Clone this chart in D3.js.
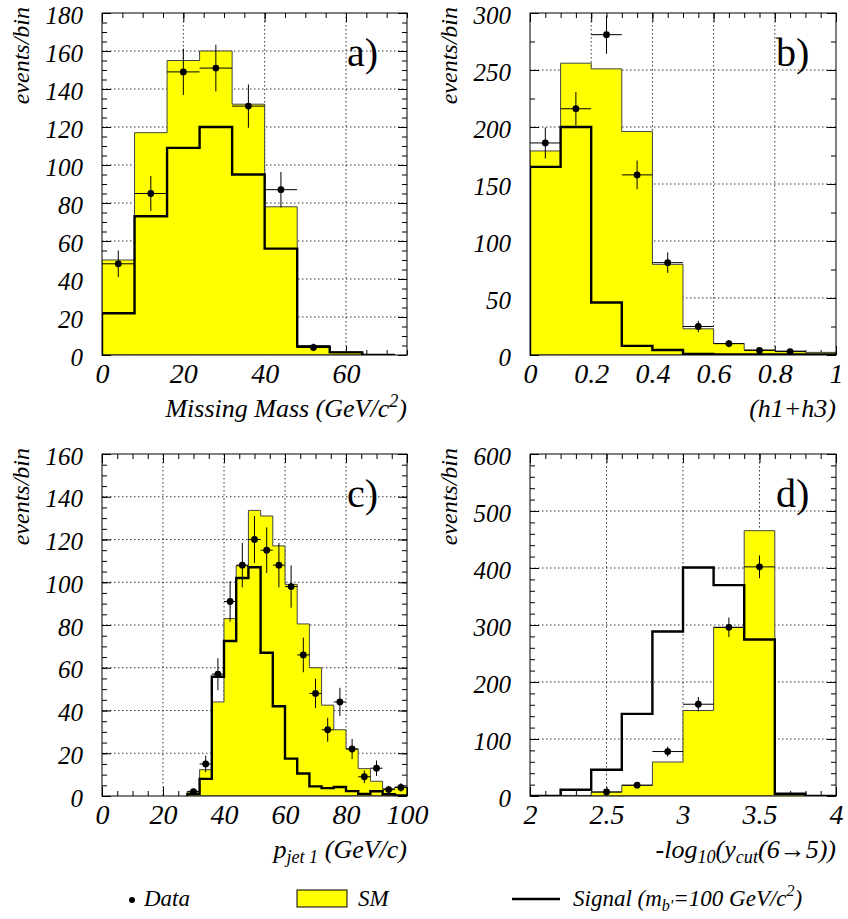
<!DOCTYPE html>
<meta charset='utf-8'>
<style>
body { margin: 0; background: #fff; }
.grid line { stroke: #000; stroke-width: 0.8; stroke-dasharray: 1.5,2.5; }
.ticks line { stroke: #000; stroke-width: 1; }
.ticks path { display: none; }
.labels path, .labels line { display: none; }
.sm { fill: #ffff00; stroke: #444; stroke-width: 1; }
.sig { fill: none; stroke: #000; stroke-width: 2.4; }
.err { stroke: #000; stroke-width: 1; }
.frame { fill: none; stroke: #000; stroke-width: 1; }
</style>
<body>
<script src='https://d3js.org/d3.v7.min.js'></script>
<script>
// ---- panel a: missing mass
var binsA = [0, 8, 16, 24, 32, 40, 48, 56, 64];
var smA   = [50, 117, 155, 160, 132, 78, 5, 1.7, 0];
var sigA  = [22, 73, 109, 120, 95, 56, 4.4, 1.4, 0];
var dataXA = [4, 12, 20, 28, 36, 44, 52];
var dataA  = [48, 85, 149, 151, 131, 87, 4];
var errA   = [7, 9.2, 12.2, 12.3, 11.4, 9.3, 2];

// ---- panel b: h1+h3
var binsB = [0, 0.1, 0.2, 0.3, 0.4, 0.5, 0.6, 0.7, 0.8, 0.9];
var smB   = [179, 256, 251, 196, 79.5, 23, 10, 4.5, 3.5, 2.3];
var sigB  = [165, 200, 46, 8, 4.4, 1, 0.5, 0.5, 0.5, 0.5];
var dataXB = [0.05, 0.15, 0.25, 0.35, 0.45, 0.55, 0.65, 0.75, 0.85];
var dataB  = [186, 216, 281, 158, 81, 25, 10, 4, 3];
var errB   = [13.6, 14.7, 16.8, 12.6, 9, 5, 3.2, 2, 1.7];

// ---- panel c: p jet 1
var binsC = [28, 32, 36, 40, 44, 48, 52, 56, 60, 64, 68, 72, 76, 80, 84, 88, 92, 96];
var smC   = [2.2, 12.3, 44, 83, 107.7, 133.6, 131, 117, 99, 80.5, 60, 42.5, 31, 22, 12.8, 6.9, 3.4, 4.2];
var sigC  = [1, 8, 55.8, 72.5, 102, 107, 67, 42, 17.5, 10.5, 4.5, 3.7, 4.2, 2.3, 1, 2.2, 0.8, 0.3];
var dataXC = [30, 34, 38, 42, 46, 50, 54, 58, 62, 66, 70, 74, 78, 82, 86, 90, 94, 98];
var dataC  = [2, 15, 57, 91, 108, 120, 115, 108, 98, 66, 48, 31, 44, 22, 9, 13, 3, 4];
var errC   = [1.4, 3.9, 7.5, 9.5, 10.4, 11, 10.7, 10.4, 9.9, 8.1, 6.9, 5.6, 6.6, 4.7, 3, 3.6, 1.7, 2];

// ---- panel d: -log10(ycut)
var binsD = [2.0, 2.2, 2.4, 2.6, 2.8, 3.0, 3.2, 3.4, 3.6, 3.8];
var smD   = [0, 1, 7, 18.7, 59.6, 150, 295.6, 465.5, 4, 0];
var sigD  = [0, 11, 46, 144, 288.5, 401, 370, 274.5, 4, 0];
var dataXD = [2.5, 2.7, 2.9, 3.1, 3.3, 3.5];
var dataD  = [7, 19, 78, 161, 296, 402];
var errD   = [2.6, 4.4, 8.8, 12.7, 17.2, 20];

var FONT = "'Liberation Serif'";

var svg = d3.select('body').append('svg')
  .attr('width', 848).attr('height', 919);

function txt(sel, size, upright) {
  return sel.attr('font-family', null).style('font-family', FONT).style('font-size', size + 'px')
    .style('font-style', upright ? 'normal' : 'italic').style('fill', '#000');
}

function panel(p) {
  var g = svg.append('g').attr('transform', 'translate(' + p.left + ',' + p.top + ')');
  var x = d3.scaleLinear().domain(p.xDomain).range([0, p.w]);
  var y = d3.scaleLinear().domain(p.yDomain).range([p.h, 0]);

  g.append('clipPath').attr('id', 'clip' + p.id)
    .append('rect').attr('width', p.w).attr('height', p.h);

  // gridlines
  var gx = p.xMajor.filter(function(v) { return v > p.xDomain[0] && v < p.xDomain[1]; });
  var gy = p.yMajor.filter(function(v) { return v > p.yDomain[0] && v < p.yDomain[1]; });
  var grid = g.append('g').attr('class', 'grid');
  grid.selectAll('.gx').data(gx).enter().append('line')
    .attr('x1', function(d) { return x(d); }).attr('x2', function(d) { return x(d); })
    .attr('y1', 0).attr('y2', p.h);
  grid.selectAll('.gy').data(gy).enter().append('line')
    .attr('y1', function(d) { return y(d); }).attr('y2', function(d) { return y(d); })
    .attr('x1', 0).attr('x2', p.w);

  // ticks on all four sides, pointing inward
  function ticks(axis, vals, len, tr) {
    g.append('g').attr('class', 'ticks').attr('transform', tr || null)
      .call(axis.tickValues(vals).tickSize(len).tickFormat(''));
  }
  ticks(d3.axisLeft(y), p.yMinor, -5);
  ticks(d3.axisLeft(y), p.yMajor, -9);
  ticks(d3.axisRight(y), p.yMinor, -5, 'translate(' + p.w + ',0)');
  ticks(d3.axisRight(y), p.yMajor, -9, 'translate(' + p.w + ',0)');
  ticks(d3.axisTop(x), p.xMinor, -5);
  ticks(d3.axisTop(x), p.xMajor, -9);
  ticks(d3.axisBottom(x), p.xMinor, -5, 'translate(0,' + p.h + ')');
  ticks(d3.axisBottom(x), p.xMajor, -9, 'translate(0,' + p.h + ')');

  var body = g.append('g').attr('clip-path', 'url(#clip' + p.id + ')');

  function steps(vals) {
    var pts = vals.map(function(v, i) { return [p.bins[i], v]; });
    pts.push([p.bins[p.bins.length - 1] + p.bw, vals[vals.length - 1]]);
    return pts;
  }

  var area = d3.area().curve(d3.curveStepAfter)
    .x(function(d) { return x(d[0]); })
    .y0(y(0)).y1(function(d) { return y(d[1]); });
  body.append('path').attr('class', 'sm').attr('d', area(steps(p.sm)));

  var line = d3.line().curve(d3.curveStepAfter)
    .x(function(d) { return x(d[0]); })
    .y(function(d) { return y(d[1]); });
  var sp = steps(p.sig);
  sp.unshift([p.bins[0], 0]);
  sp.push([sp[sp.length - 1][0], 0]);
  body.append('path').attr('class', 'sig').attr('d', line(sp));

  // data with error bars
  var pts = body.selectAll('.pt').data(p.dataX).enter().append('g');
  pts.append('line').attr('class', 'err')
    .attr('x1', function(d) { return x(d - p.bw / 2); })
    .attr('x2', function(d) { return x(d + p.bw / 2); })
    .attr('y1', function(d, i) { return y(p.data[i]); })
    .attr('y2', function(d, i) { return y(p.data[i]); });
  pts.append('line').attr('class', 'err')
    .attr('x1', function(d) { return x(d); })
    .attr('x2', function(d) { return x(d); })
    .attr('y1', function(d, i) { return y(p.data[i] - p.err[i]); })
    .attr('y2', function(d, i) { return y(p.data[i] + p.err[i]); });
  pts.append('circle')
    .attr('cx', function(d) { return x(d); })
    .attr('cy', function(d, i) { return y(p.data[i]); })
    .attr('r', 3.4);

  g.append('rect').attr('class', 'frame').attr('width', p.w).attr('height', p.h);

  // tick labels
  var ya = g.append('g').attr('class', 'labels')
    .call(d3.axisLeft(y).tickValues(p.yMajor).tickSize(0).tickPadding(19).tickFormat(d3.format('~g')))
    .attr('font-family', null).attr('font-size', null);
  txt(ya.selectAll('text').attr('dy', '0.4em'), 25);
  var xa = g.append('g').attr('class', 'labels').attr('transform', 'translate(0,' + p.h + ')')
    .call(d3.axisBottom(x).tickValues(p.xLabels).tickSize(0).tickPadding(0).tickFormat(d3.format('~g')))
    .attr('font-family', null).attr('font-size', null);
  txt(xa.selectAll('text').attr('dy', null).attr('y', 28), 28);

  txt(g.append('text').attr('x', p.w - 60).attr('y', 53).text(p.tag), 40, true);

  txt(g.append('text')
    .attr('transform', 'translate(-73,-6) rotate(-90)')
    .attr('text-anchor', 'end').text('events/bin'), 24);

  var t = txt(g.append('text').attr('text-anchor', 'end')
    .attr('x', p.w).attr('y', p.h + 62), 26);
  p.title(t);
}

function sub(t, s) { t.append('tspan').attr('font-size', '70%').attr('dy', 5).text(s); }
function unsub(t, s) { t.append('tspan').attr('dy', -5).text(s); }

panel({
  id: 'a', tag: 'a)', left: 102, top: 13, w: 305, h: 342,
  xDomain: [0, 75], yDomain: [0, 180],
  xMajor: [0, 20, 40, 60], xMinor: d3.range(0, 76, 5), xLabels: [0, 20, 40, 60],
  yMajor: [0, 20, 40, 60, 80, 100, 120, 140, 160, 180], yMinor: d3.range(0, 181, 5),
  bins: binsA, bw: 8, sm: smA, sig: sigA, dataX: dataXA, data: dataA, err: errA,
  title: function(t) {
    t.append('tspan').text('Missing Mass (GeV/c');
    t.append('tspan').attr('font-size', '70%').attr('dy', -10).text('2');
    t.append('tspan').attr('dy', 10).text(')');
  }
});

panel({
  id: 'b', tag: 'b)', left: 530, top: 13, w: 306, h: 342,
  xDomain: [0, 1], yDomain: [0, 300],
  xMajor: [0, 0.2, 0.4, 0.6, 0.8, 1], xMinor: d3.range(0, 21).map(function(i) { return i / 20; }),
  xLabels: [0, 0.2, 0.4, 0.6, 0.8, 1],
  yMajor: [0, 50, 100, 150, 200, 250, 300], yMinor: d3.range(0, 301, 25),
  bins: binsB, bw: 0.1, sm: smB, sig: sigB, dataX: dataXB, data: dataB, err: errB,
  title: function(t) { t.text('(h1+h3)'); }
});

panel({
  id: 'c', tag: 'c)', left: 102, top: 454, w: 305, h: 342,
  xDomain: [0, 100], yDomain: [0, 160],
  xMajor: [0, 20, 40, 60, 80, 100], xMinor: d3.range(0, 101, 5), xLabels: [0, 20, 40, 60, 80, 100],
  yMajor: [0, 20, 40, 60, 80, 100, 120, 140, 160], yMinor: d3.range(0, 161, 5),
  bins: binsC, bw: 4, sm: smC, sig: sigC, dataX: dataXC, data: dataC, err: errC,
  title: function(t) {
    t.append('tspan').text('p');
    sub(t, 'jet 1');
    unsub(t, ' (GeV/c)');
  }
});

panel({
  id: 'd', tag: 'd)', left: 530, top: 454, w: 306, h: 342,
  xDomain: [2, 4], yDomain: [0, 600],
  xMajor: [2, 2.5, 3, 3.5, 4], xMinor: d3.range(0, 21).map(function(i) { return 2 + i / 10; }),
  xLabels: [2, 2.5, 3, 3.5, 4],
  yMajor: [0, 100, 200, 300, 400, 500, 600], yMinor: d3.range(0, 601, 20),
  bins: binsD, bw: 0.2, sm: smD, sig: sigD, dataX: dataXD, data: dataD, err: errD,
  title: function(t) {
    t.append('tspan').text('-log');
    sub(t, '10');
    unsub(t, '(y');
    sub(t, 'cut');
    unsub(t, '(6\u21925))');
  }
});

// legend
var leg = svg.append('g');
leg.append('circle').attr('cx', 132).attr('cy', 900).attr('r', 3);
txt(leg.append('text').attr('x', 144).attr('y', 906).text('Data'), 23);
leg.append('rect').attr('x', 297).attr('y', 890).attr('width', 50).attr('height', 17)
  .attr('fill', '#ffff00').attr('stroke', '#000');
txt(leg.append('text').attr('x', 358).attr('y', 906).text('SM'), 23);
leg.append('line').attr('x1', 512).attr('x2', 560).attr('y1', 899).attr('y2', 899)
  .attr('stroke', '#000').attr('stroke-width', 2.4);
var st = txt(leg.append('text').attr('x', 573).attr('y', 906), 23);
st.append('tspan').text('Signal (m');
st.append('tspan').attr('font-size', '70%').attr('dy', 5).text("b'");
st.append('tspan').attr('dy', -5).text('=100 GeV/c');
st.append('tspan').attr('font-size', '70%').attr('dy', -10).text('2');
st.append('tspan').attr('dy', 10).text(')');
</script>
</body>
